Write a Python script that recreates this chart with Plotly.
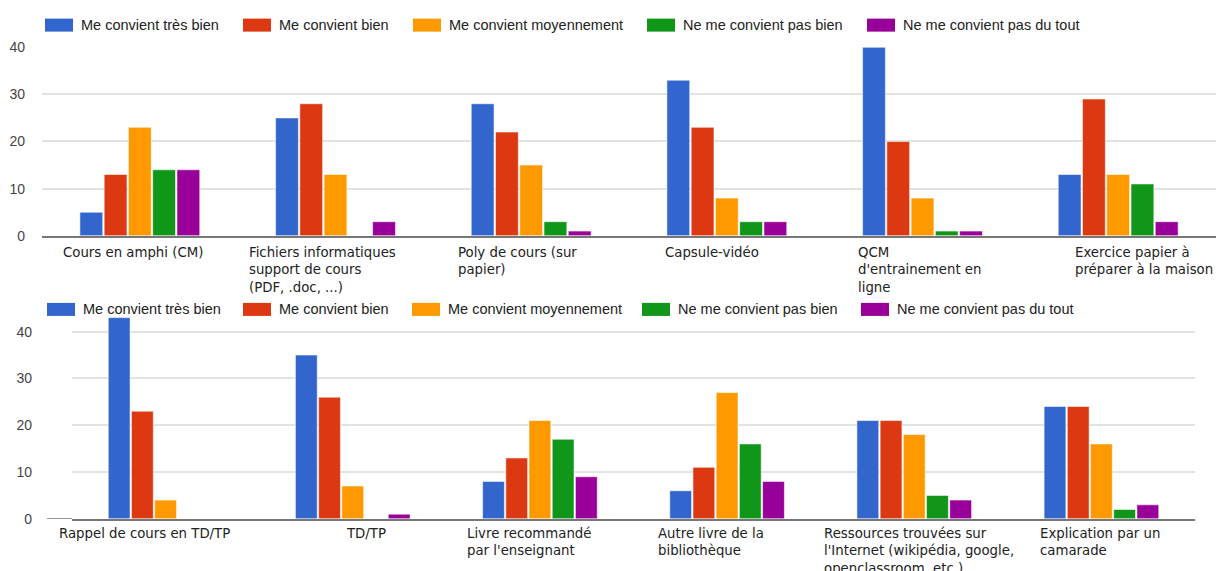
import plotly.graph_objects as go

# ---------------- data ----------------
series_names = [
    "Me convient très bien",
    "Me convient bien",
    "Me convient moyennement",
    "Ne me convient pas bien",
    "Ne me convient pas du tout",
]
series_colors = ["#3366cc", "#dc3912", "#ff9900", "#109618", "#990099"]

categories_top = [
    "Cours en amphi (CM)",
    "Fichiers informatiques<br>support de cours<br>(PDF, .doc, ...)",
    "Poly de cours (sur<br>papier)",
    "Capsule-vidéo",
    "QCM<br>d'entrainement en<br>ligne",
    "Exercice papier à<br>préparer à la maison",
]
tres_bien_top = [5, 25, 28, 33, 40, 13]
bien_top = [13, 28, 22, 23, 20, 29]
moyen_top = [23, 13, 15, 8, 8, 13]
pas_bien_top = [14, 0, 3, 3, 1, 11]
pas_du_tout_top = [14, 3, 1, 3, 1, 3]

categories_bottom = [
    "Rappel de cours en TD/TP",
    "TD/TP",
    "Livre recommandé<br>par l'enseignant",
    "Autre livre de la<br>bibliothèque",
    "Ressources trouvées sur<br>l'Internet (wikipédia, google,<br>openclassroom, etc.)",
    "Explication par un<br>camarade",
]
tres_bien_bot = [43, 35, 8, 6, 21, 24]
bien_bot = [23, 26, 13, 11, 21, 24]
moyen_bot = [4, 7, 21, 27, 18, 16]
pas_bien_bot = [0, 0, 17, 16, 5, 2]
pas_du_tout_bot = [0, 1, 9, 8, 4, 3]

y_ticks = [0, 10, 20, 30, 40]

# ---------------- layout constants ----------------
W, H = 1216, 571
# vertical calibration of the capture (measured): shown_y = 8.4 + 0.971 * page_y
CAL_A, CAL_B = 8.4, 0.971

def px_x(v):
    return v / W

def px_y(v):
    return 1 - ((v - CAL_A) / CAL_B) / H

# horizontal nudges of the category labels (style only)
label_shift_top = [-7, -13, -14, -15, -3, 26]
label_shift_bot = [-21, 13, -11, -16, 5, -1]

top_series = [tres_bien_top, bien_top, moyen_top, pas_bien_top, pas_du_tout_top]
bot_series = [tres_bien_bot, bien_bot, moyen_bot, pas_bien_bot, pas_du_tout_bot]

fig = go.Figure()
bar_line = dict(color="rgba(255,255,255,0.55)", width=1)
for name, color, vals in zip(series_names, series_colors, top_series):
    fig.add_trace(go.Bar(x=categories_top, y=vals, name=name,
                         marker=dict(color=color, line=bar_line),
                         xaxis="x", yaxis="y", showlegend=False,
                         hovertemplate="%{y}<extra>" + name + "</extra>"))
for name, color, vals in zip(series_names, series_colors, bot_series):
    fig.add_trace(go.Bar(x=categories_bottom, y=vals, name=name,
                         marker=dict(color=color, line=bar_line),
                         xaxis="x2", yaxis="y2", showlegend=False,
                         hovertemplate="%{y}<extra>" + name + "</extra>"))

tick_font = dict(family="Liberation Sans, Arial, sans-serif", size=14, color="#444444")
grid = dict(showgrid=True, gridcolor="#e3e3e3", gridwidth=1.5, zeroline=False,
            showline=False, tickvals=y_ticks, ticks="", tickfont=tick_font)
n_top, n_bot = len(categories_top), len(categories_bottom)
xax = dict(showticklabels=False, ticks="", showgrid=False, showline=True,
           linecolor="#777777", linewidth=1.5, type="category", fixedrange=True)

fig.update_layout(
    width=W, height=H,
    margin=dict(l=0, r=0, t=0, b=0),
    paper_bgcolor="white", plot_bgcolor="white",
    barmode="group", bargap=0.38, bargroupgap=0.06,
    xaxis=dict(domain=[px_x(42), px_x(1216)], anchor="y",
               range=[-0.5, n_top - 0.5], autorange=False, **xax),
    yaxis=dict(domain=[px_y(236), px_y(47.5)], range=[0, 40], anchor="x",
               ticklabelstandoff=16, **grid),
    xaxis2=dict(domain=[px_x(72), px_x(1195)], anchor="y2",
                range=[-0.5, n_bot - 0.5], autorange=False, **xax),
    yaxis2=dict(domain=[px_y(518.7), px_y(317.7)], range=[0, 43], anchor="x2",
                ticklabelstandoff=39, **grid),
)

# category labels (wrapped, left aligned lines)
label_font = dict(family="DejaVu Sans, sans-serif", size=13.3, color="#222222")
annotations = []
for cat, dx in zip(categories_top, label_shift_top):
    annotations.append(dict(x=cat, y=0, xref="x", yref="y", text=cat, showarrow=False,
                            xanchor="center", yanchor="top", align="left",
                            yshift=-7, xshift=dx, font=label_font))
for cat, dx in zip(categories_bottom, label_shift_bot):
    annotations.append(dict(x=cat, y=0, xref="x2", yref="y2", text=cat, showarrow=False,
                            xanchor="center", yanchor="top", align="left",
                            yshift=-5, xshift=dx, font=label_font))

# custom legends
legend_font = dict(family="Liberation Sans, Arial, sans-serif", size=14.5, color="#222222")
shapes = []
legend_rows = [
    (25.5, [45, 243, 413, 647, 867]),
    (309.5, [47, 243, 412, 642, 861]),
]
for yc, xs in legend_rows:
    for name, color, x0 in zip(series_names, series_colors, xs):
        shapes.append(dict(type="rect", xref="paper", yref="paper",
                           x0=px_x(x0), x1=px_x(x0 + 28), y0=px_y(yc + 6.5), y1=px_y(yc - 6.5),
                           fillcolor=color, line=dict(width=0)))
        annotations.append(dict(x=px_x(x0 + 34), y=px_y(yc), xref="paper", yref="paper",
                                text=name, showarrow=False, xanchor="left", yanchor="middle",
                                font=legend_font))

# small extension of the bottom baseline to the left
shapes.append(dict(type="line", xref="paper", yref="y2", x0=px_x(47), x1=px_x(72), y0=0, y1=0,
                   line=dict(color="#777777", width=1.5)))

fig.update_layout(annotations=annotations, shapes=shapes)

# pin the figure to the top-left corner of the page (no default body margin)
post = (
    "document.documentElement.style.margin='0';"
    "document.body.style.margin='0';"
    "document.documentElement.style.overflow='hidden';"
    "document.body.style.overflow='hidden';"
    "var d=document.getElementById('{plot_id}');"
    "d.style.position='fixed';d.style.left='0px';d.style.top='0px';"
)
fig.write_html("out.html", post_script=post, config={"displayModeBar": False})
